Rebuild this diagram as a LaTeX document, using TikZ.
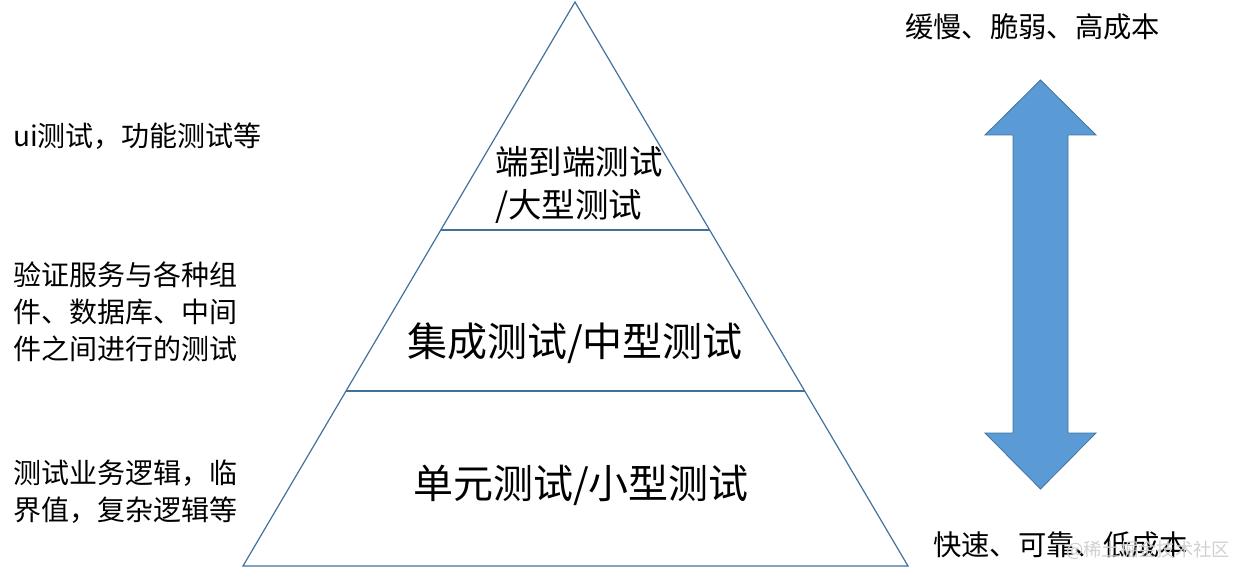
\documentclass[tikz,border=0pt]{standalone}
\usepackage{fontspec}
\setmainfont{Noto Sans CJK SC}
\usetikzlibrary{calc}
\definecolor{edge}{HTML}{41719C}
\definecolor{arrowfill}{HTML}{5B9BD5}
\definecolor{wm}{HTML}{D0D0D0}
\begin{document}
\begin{tikzpicture}[x=1pt,y=-1pt,
  lbl/.style={inner sep=0pt,anchor=west,align=left,font=\fontsize{28}{37}\selectfont},
  big/.style={inner sep=0pt,font=\fontsize{40}{48}\selectfont},
  mid/.style={inner sep=0pt,anchor=west,align=left,font=\fontsize{33.5}{43}\selectfont},
  side/.style={inner sep=0pt,anchor=west,font=\fontsize{28.3}{32}\selectfont},
  tri/.style={draw=edge,line width=1.2pt}]
\useasboundingbox (0,0) rectangle (1235,569);
% triangle
\coordinate (apex) at (575,2);
\coordinate (bl) at (243,566);
\coordinate (br) at (908,566);
\coordinate (l1) at ($(apex)!0.4043!(bl)$);
\coordinate (r1) at ($(apex)!0.4043!(br)$);
\coordinate (l2) at ($(apex)!0.6897!(bl)$);
\coordinate (r2) at ($(apex)!0.6897!(br)$);
\draw[tri,line join=miter] (apex) -- (bl) -- (br) -- cycle;
\draw[tri] (l1) -- (r1);
\draw[tri] (l2) -- (r2);
% triangle labels
\node[mid] (top) at (495,185) {端到端测试\\/大型测试};
\node[big] (middle) at (575,343) {集成测试/中型测试};
\node[big] (bottom) at (581,485) {单元测试/小型测试};
% left labels
\node[lbl] (ui) at (13,136) {ui测试，功能测试等};
\node[lbl] (integ) at (13,312) {验证服务与各种组\\件、数据库、中间\\件之间进行的测试};
\node[lbl] (unit) at (13,492) {测试业务逻辑，临\\界值，复杂逻辑等};
% double arrow
\draw[draw=edge,fill=arrowfill,line width=0.8pt,line join=miter]
  (1040.5,80) -- (1096,135) -- (1068,135) -- (1068,433) -- (1096,433)
  -- (1040.5,489) -- (985,433) -- (1013,433) -- (1013,135) -- (985,135) -- cycle;
% right labels
\node[side] (slow) at (905,27) {缓慢、脆弱、高成本};
\node[side] (fast) at (933,545) {快速、可靠、低成本};
\node[inner sep=0pt,anchor=west,text=wm,font=\fontsize{18.3}{20}\selectfont] (mark) at (1066,550) {@稀土掘金技术社区};
\end{tikzpicture}
\end{document}
